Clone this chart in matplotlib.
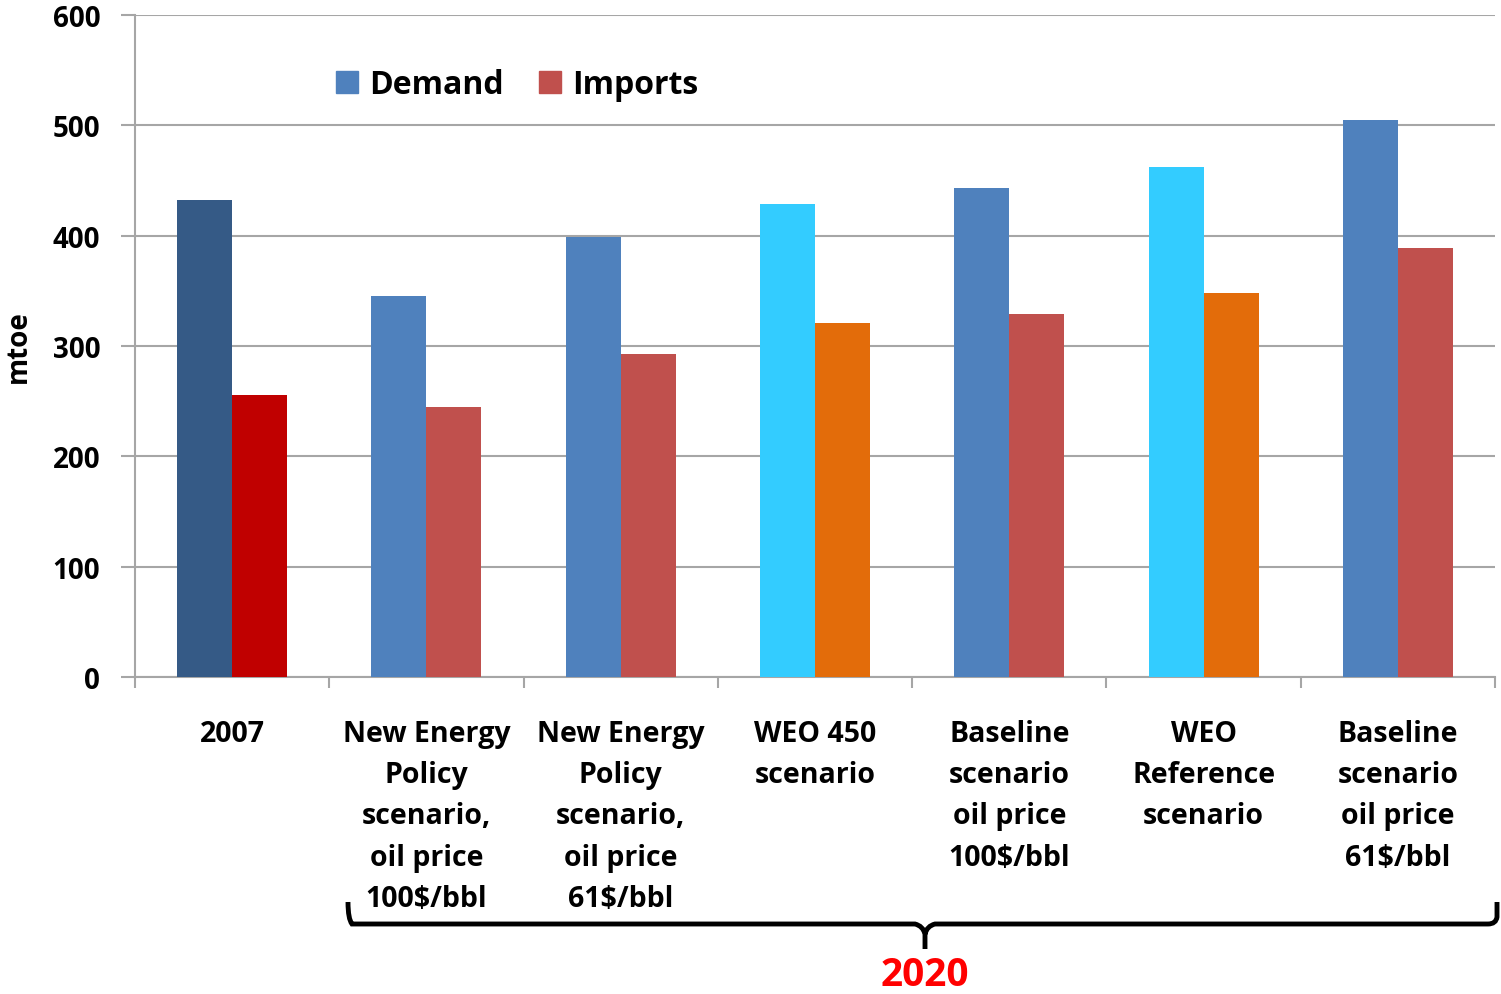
import matplotlib.pyplot as plt
import numpy as np
from matplotlib.patches import Patch, PathPatch
from matplotlib.path import Path

# Oil demand vs imports, mtoe
categories = ['2007',
              'New Energy\nPolicy\nscenario,\noil price\n100$/bbl',
              'New Energy\nPolicy\nscenario,\noil price\n61$/bbl',
              'WEO 450\nscenario',
              'Baseline\nscenario\noil price\n100$/bbl',
              'WEO\nReference\nscenario',
              'Baseline\nscenario\noil price\n61$/bbl']
demand = [432, 345, 399, 429, 443, 462, 505]
imports = [256, 245, 293, 321, 329, 348, 389]

demand_colors = ['#355A86', '#4F81BD', '#4F81BD', '#33CCFF', '#4F81BD', '#33CCFF', '#4F81BD']
import_colors = ['#C00000', '#C0504D', '#C0504D', '#E36C0A', '#C0504D', '#E36C0A', '#C0504D']

plt.rcParams['font.family'] = ['Open Sans', 'DejaVu Sans']
plt.rcParams['font.weight'] = 'bold'
plt.rcParams['axes.labelweight'] = 'bold'

fig = plt.figure(figsize=(15.01, 9.95), dpi=100)
ax = fig.add_axes([135 / 1501, 1 - 678 / 995, (1495 - 135) / 1501, (678 - 16) / 995])

x = np.arange(len(categories))
w = 0.283
ax.bar(x - w / 2, demand, width=w, color=demand_colors, zorder=3)
ax.bar(x + w / 2, imports, width=w, color=import_colors, zorder=3)

ax.set_xlim(-0.5, len(categories) - 0.5)
ax.set_ylim(0, 600)
ax.set_yticks(range(0, 601, 100))
ax.yaxis.grid(True, color='#A6A6A6', linewidth=1.5, zorder=0)
ax.tick_params(axis='y', length=10, width=1.5, color='#A6A6A6', pad=15, labelsize=20)

ax.set_xticks(x)
ax.set_xticklabels(categories, fontsize=20.5, linespacing=1.56, va='top', fontweight='bold')
ax.set_xticks(np.arange(-0.5, len(categories)), minor=True)
ax.tick_params(axis='x', which='major', length=0, pad=30)
ax.tick_params(axis='x', which='minor', length=8, width=1.5, color='#A6A6A6', direction='out')
for lbl in ax.get_yticklabels():
    lbl.set_fontweight('bold')

for s in ['top', 'right']:
    ax.spines[s].set_visible(False)
for s in ['left', 'bottom']:
    ax.spines[s].set_color('#A6A6A6')
    ax.spines[s].set_linewidth(1.5)

ax.set_ylabel('mtoe', fontsize=20, fontweight='bold', labelpad=14)

handles = [Patch(color='#4F81BD', label='Demand'), Patch(color='#C0504D', label='Imports')]
leg = ax.legend(handles=handles, loc='center left', bbox_to_anchor=(0.1475, 0.895), ncol=2,
                frameon=False, fontsize=23, handlelength=0.7, handleheight=0.7,
                handletextpad=0.35, columnspacing=1.1, borderaxespad=0, borderpad=0)
for t in leg.get_texts():
    t.set_fontweight('bold')

# brace grouping the 2020 scenarios
W, H = 1501, 995
pts = [(348, 903), (348, 920), (352, 925), (360, 925),
       (915, 925), (923, 927), (925, 935), (925, 950),
       (925, 935), (927, 927), (935, 925),
       (1488, 925), (1496, 925), (1497, 918), (1497, 903)]
verts = [(px / W, 1 - py / H) for px, py in pts]
codes = [Path.MOVETO, Path.CURVE3, Path.CURVE3, Path.LINETO,
         Path.LINETO, Path.CURVE3, Path.CURVE3, Path.LINETO,
         Path.MOVETO, Path.CURVE3, Path.CURVE3,
         Path.LINETO, Path.CURVE3, Path.CURVE3, Path.LINETO]
fig.patches.append(PathPatch(Path(verts, codes), transform=fig.transFigure,
                             fill=False, edgecolor='black', linewidth=3.5))
fig.text(925 / W, 1 - 976 / H, '2020', color='#FF0000', fontsize=28,
         fontweight='bold', ha='center', va='center')

fig.savefig('out.png', dpi=100)
